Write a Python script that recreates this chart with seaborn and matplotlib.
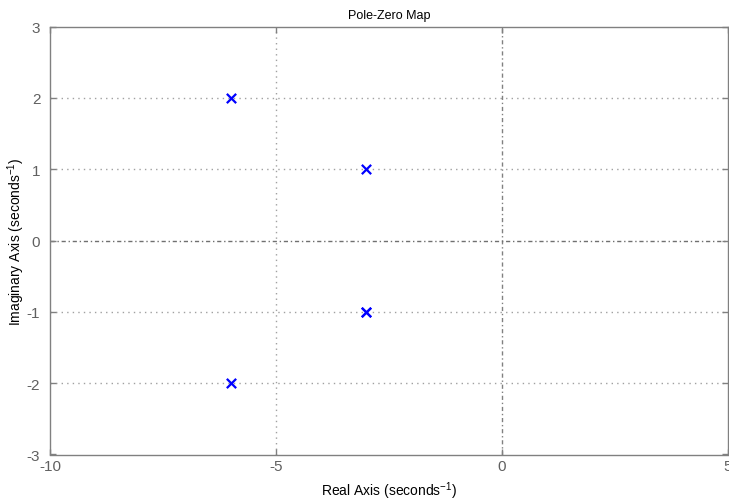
import matplotlib
matplotlib.use("Agg")
import matplotlib.pyplot as plt
import seaborn as sns
import pandas as pd

# Pole locations of the system (the pole at -3 - 1j is repeated)
pole_real = [-6, -6, -3, -3, -3]
pole_imag = [2, -2, 1, -1, -1]

x_ticks = [-10, -5, 0, 5]
y_ticks = [-3, -2, -1, 0, 1, 2, 3]

sns.set_theme(style="white")
plt.rcParams["font.family"] = ["Liberation Sans", "DejaVu Sans"]
plt.rcParams["axes.unicode_minus"] = False

poles = pd.DataFrame({"real": pole_real, "imag": pole_imag})

fig = plt.figure(figsize=(7.29, 5.02), dpi=100)
ax = fig.add_axes([50 / 729, 1 - 455.5 / 502, 678 / 729, 428 / 502])

# dotted grid and dash-dot zero lines
for xv in [-5]:
    ax.axvline(xv, color="#a0a0a0", lw=1, ls=(0, (1, 3)), zorder=0)
for yv in [-2, -1, 1, 2]:
    ax.axhline(yv, color="#a0a0a0", lw=1, ls=(0, (1, 3)), zorder=0)
ax.axvline(0, color="#808080", lw=1, ls=(0, (3, 2, 1, 2)), zorder=0)
ax.axhline(0, color="#707070", lw=1, ls=(0, (3, 2, 1, 2)), zorder=0)

sns.scatterplot(data=poles, x="real", y="imag", marker="x", s=45,
                color="#0000ff", linewidth=1.6, ax=ax, zorder=3, legend=False)

ax.set_xlim(-10, 5)
ax.set_ylim(-3, 3)
ax.set_xticks(x_ticks)
ax.set_yticks(y_ticks)
ax.set_xticklabels([str(v) for v in x_ticks])
ax.set_yticklabels([str(v) for v in y_ticks])

for s in ax.spines.values():
    s.set_color("#808080")
    s.set_linewidth(1)
ax.tick_params(direction="in", length=4, width=1, color="#808080",
               labelcolor="#606060", labelsize=11, top=True, right=True,
               bottom=True, left=True)
ax.tick_params(axis="x", pad=3)
ax.tick_params(axis="y", pad=7)

ax.set_title("Pole-Zero Map", fontsize=9, color="black", pad=6)
ax.set_xlabel(r"Real Axis (seconds$\mathregular{^{-1}}$)", fontsize=10, color="black")
ax.set_ylabel(r"Imaginary Axis (seconds$\mathregular{^{-1}}$)", fontsize=10, color="black")
ax.xaxis.set_label_coords(0.5, (455.5 - 480) / 428)
ax.yaxis.set_label_coords((27 - 50) / 678, 0.5)

fig.savefig("out.png", dpi=100, facecolor="white")
